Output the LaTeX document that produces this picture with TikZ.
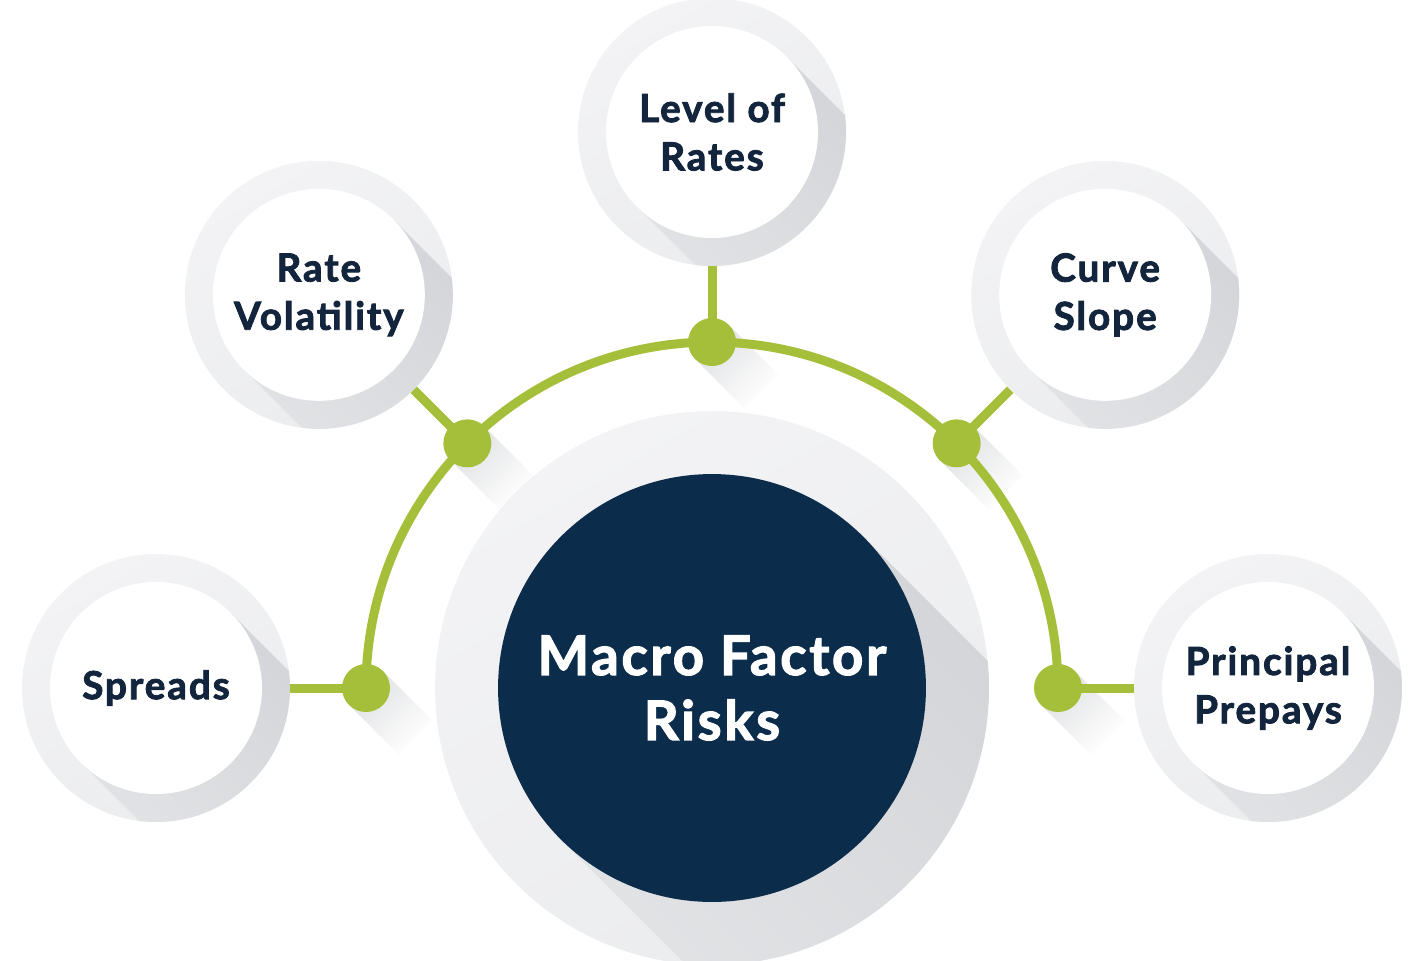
\documentclass[tikz,border=0pt]{standalone}
\usepackage{fontspec}
\setmainfont{Lato}[BoldFeatures={FakeBold=2.2, LetterSpace=5}]
\usepackage{tikz}
\usetikzlibrary{positioning, calc, fadings, math}
\definecolor{navy}{HTML}{0B2D4B}
\definecolor{ink}{HTML}{13253C}
\definecolor{leaf}{HTML}{A5BF3A}
\definecolor{ring}{HTML}{EBECEE}
\definecolor{ringlight}{HTML}{F3F3F5}
\definecolor{shade}{HTML}{D2D3D6}
\tikzfading[name=fade out, left color=transparent!0, right color=transparent!100]
\tikzset{%
  % grey disc under the centre
  hubring/.style={circle, inner sep=0pt, minimum size=11.08cm,
    top color=ringlight, bottom color=ring, shading angle=30},
  core/.style={circle, fill=navy, inner sep=0pt, minimum size=8.56cm,
    text=white, align=center, font=\fontsize{31}{37}\selectfont\bfseries},
  % grey disc and white face of every factor
  topicring/.style={circle, inner sep=0pt, minimum size=5.36cm,
    top color=ringlight, bottom color=ring, shading angle=30},
  topic/.style={circle, fill=white, inner sep=0pt, minimum size=4.24cm,
    text=ink, align=center, font=\fontsize{22}{27.5}\selectfont\bfseries},
  stem/.style={draw=leaf, line width=0.18cm},
  knob/.style={circle, fill=leaf, inner sep=0pt, minimum size=0.96cm},
  longshadow/.style={top color=shade, bottom color=ring!70!shade, shading angle=-45},
  knobshadow/.style={fill=shade!70!white, path fading=fade out, fading angle=-45},
}

\begin{document}
\begin{tikzpicture}[x=0.02cm, y=0.02cm]
  \tikzmath{\hubr = 346; \topr = 556; \corer = 214; \facer = 106;}
  \useasboundingbox (0,0) rectangle (1419,-960);
  \clip (0,0) rectangle (1419,-960);
  \coordinate (hub) at (712,-688);

  % centre with its long shadow
  \node[hubring] (corering) at (hub) {};
  \begin{scope}
    \clip (hub) circle (5.54cm);
    \shade[longshadow] ($(hub)+(45:\corer)$) -- ++(-45:420) -- ++(225:2*\corer)
      -- ($(hub)+(225:\corer)$) -- cycle;
  \end{scope}
  \node[core] (core) at (hub) {\raisebox{-6pt}{Macro Factor}\\\raisebox{-6pt}{Risks}};

  % knobs on the arc and the five factors
  \foreach \a/\f in {180/spreads, 135/vol, 90/level, 45/slope, 0/prepay} {
    \coordinate (\f-dot) at ($(hub)+(\a:\hubr)$);
    \node[topicring] (\f) at ($(hub)+(\a:\topr)$) {};
  }
  \foreach \f/\t in {spreads/Spreads, vol/Rate\\Volatility, level/Level of\\Rates,
      slope/Curve\\Slope, prepay/Principal\\Prepays} {
    \begin{scope}
      \clip (\f.center) circle (2.68cm);
      \shade[longshadow] ($(\f.center)+(45:\facer)$) -- ++(-45:220) -- ++(225:2*\facer)
        -- ($(\f.center)+(225:\facer)$) -- cycle;
    \end{scope}
    \node[topic] (\f-face) at (\f.center) {\t};
    \fill[knobshadow] ($(\f-dot)+(45:24)$) -- ++(-45:70) -- ++(225:48)
      -- ($(\f-dot)+(225:24)$) -- cycle;
  }

  \draw[stem] (spreads-dot) arc[start angle=180, end angle=0, radius=6.92cm];
  \foreach \f in {spreads, vol, level, slope, prepay} {
    \draw[stem] (\f-dot) -- (\f);
    \node[knob] (\f-knob) at (\f-dot) {};
  }
\end{tikzpicture}
\end{document}
